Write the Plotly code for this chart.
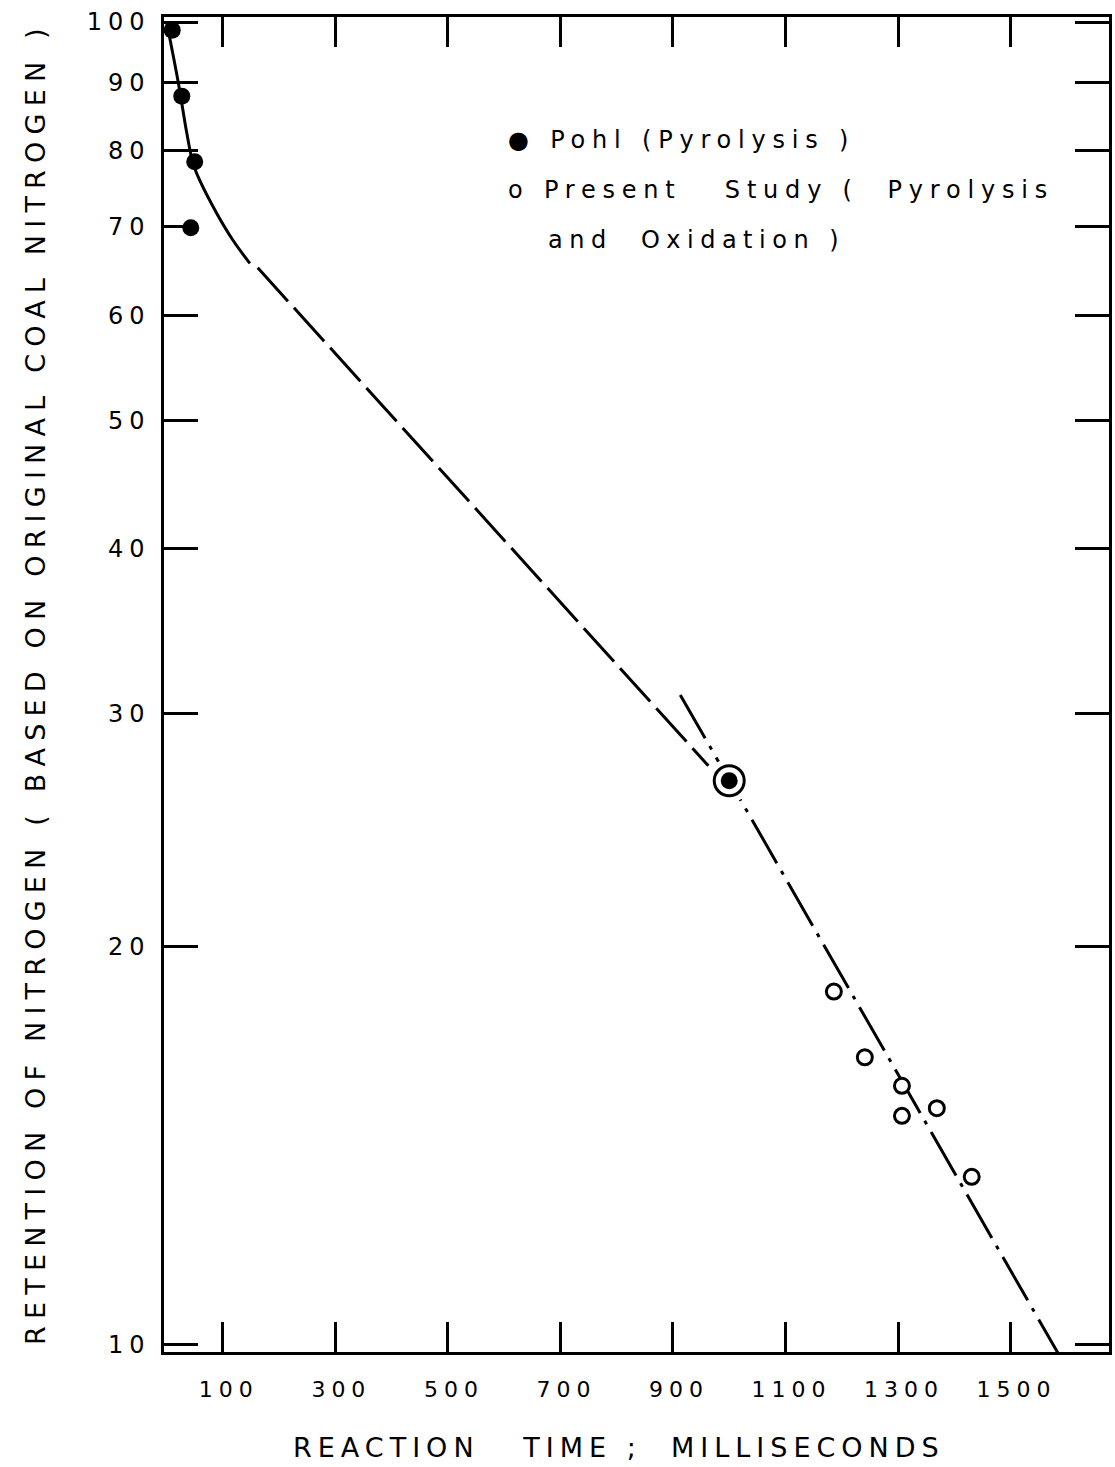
import plotly.graph_objects as go

# Pohl, pyrolysis (filled symbols)
pohl_time_ms = [10, 27, 50, 43, 1000]
pohl_retention = [98.6, 87.9, 78.4, 69.9, 26.7]

# Present study, pyrolysis and oxidation (open symbols)
study_time_ms = [1000, 1186, 1241, 1307, 1307, 1369, 1431]
study_retention = [26.7, 18.5, 16.5, 15.7, 14.9, 15.1, 13.4]

# Early-time solid curve
curve_time_ms = [0, 21, 36, 47, 59, 89, 118, 148]
curve_retention = [100, 89.9, 82.4, 78.2, 75.9, 71.7, 68.4, 65.7]

# Long-dash straight segment
dash_time_ms = [162, 963]
dash_retention = [65.2, 27.4]

# Dash-dot line through the later points
fit_time_ms = [913, 1600]
fit_retention = [31.0, 9.6]

x_tick_vals = [100, 300, 500, 700, 900, 1100, 1300, 1500]
x_tick_text = ["100", "300", "500", "700", "900", "1100", "1300", "1500"]
y_tick_vals = [10, 20, 30, 40, 50, 60, 70, 80, 90, 100]
y_tick_text = ["10", "20", "30", "40", "50", "60", "70", "80", "90", "100"]

FONT = "DejaVu Sans"
NB = "\u00a0"


def spaced(text, px):
    return f'<span style="letter-spacing:{px}px">{text}</span>'


fig = go.Figure()

fig.add_trace(go.Scatter(
    x=curve_time_ms, y=curve_retention, mode="lines",
    line=dict(color="black", width=3, shape="spline", smoothing=1.0),
    showlegend=False, hoverinfo="skip"))

fig.add_trace(go.Scatter(
    x=dash_time_ms, y=dash_retention, mode="lines",
    line=dict(color="black", width=3, dash="45px,9px"),
    showlegend=False, hoverinfo="skip"))

fig.add_trace(go.Scatter(
    x=fit_time_ms, y=fit_retention, mode="lines",
    line=dict(color="black", width=3, dash="50px,9px,4px,9px"),
    showlegend=False, hoverinfo="skip"))

# white halo that opens the lines around the shared point
fig.add_trace(go.Scatter(
    x=study_time_ms[:1], y=study_retention[:1], mode="markers",
    marker=dict(symbol="circle", size=44, color="white", line=dict(width=0)),
    showlegend=False, hoverinfo="skip"))

study_sizes = [30] + [15] * (len(study_time_ms) - 1)
fig.add_trace(go.Scatter(
    x=study_time_ms, y=study_retention, mode="markers",
    marker=dict(symbol="circle", size=study_sizes, color="white", opacity=1,
                line=dict(color="black", width=3)),
    name="Present Study", showlegend=False))

fig.add_trace(go.Scatter(
    x=pohl_time_ms, y=pohl_retention, mode="markers",
    marker=dict(symbol="circle", size=17, color="black", opacity=1,
                line=dict(width=0)),
    name="Pohl", showlegend=False))

fig.update_layout(
    width=1115, height=1467,
    margin=dict(l=164, r=3, t=17, b=115),
    paper_bgcolor="white", plot_bgcolor="white",
    font=dict(family=FONT, color="black"),
    showlegend=False,
)

fig.update_xaxes(
    range=[-4.6, 1675],
    tickvals=x_tick_vals, ticktext=[spaced(t, 6) for t in x_tick_text],
    ticks="inside", ticklen=30, tickwidth=2.5, tickcolor="black",
    showline=True, linewidth=2.5, linecolor="black", mirror="ticks",
    showgrid=False, zeroline=False,
    tickfont=dict(family=FONT, size=22, color="black"),
    ticklabelstandoff=16, ticklabelshift=6,
)

fig.update_yaxes(
    type="log", range=[0.9947, 2.0038],
    tickvals=y_tick_vals, ticktext=[spaced(t, 6) for t in y_tick_text],
    ticks="inside", ticklen=34, tickwidth=2.5, tickcolor="black",
    showline=True, linewidth=2.5, linecolor="black", mirror="ticks",
    showgrid=False, zeroline=False,
    tickfont=dict(family=FONT, size=24, color="black"),
    ticklabelstandoff=6,
)

x_title = f"REACTION{NB}{NB}{NB}TIME{NB};{NB}{NB}MILLISECONDS"
y_title = (f"RETENTION{NB}OF{NB}NITROGEN{NB}({NB}BASED{NB}ON{NB}"
           f"ORIGINAL{NB}COAL{NB}NITROGEN{NB})")

annotations = [
    dict(text=spaced(x_title, 6), x=0.482, y=-0.0714, xref="paper", yref="paper",
         xanchor="center", yanchor="middle", showarrow=False,
         font=dict(family=FONT, size=27, color="black")),
    dict(text=spaced(y_title, 7.2), x=-0.136, y=0.5015, xref="paper", yref="paper",
         xanchor="center", yanchor="middle", textangle=-90, showarrow=False,
         font=dict(family=FONT, size=27, color="black")),
    dict(text=spaced(f"\u25cf{NB}Pohl{NB}(Pyrolysis{NB})", 6.8),
         x=0.362, y=0.9079, xref="paper", yref="paper",
         xanchor="left", yanchor="middle", showarrow=False,
         font=dict(family=FONT, size=24, color="black")),
    dict(text=spaced(f"o{NB}Present{NB}{NB}{NB}Study{NB}({NB}{NB}Pyrolysis", 6.8),
         x=0.362, y=0.8704, xref="paper", yref="paper",
         xanchor="left", yanchor="middle", showarrow=False,
         font=dict(family=FONT, size=24, color="black")),
    dict(text=spaced(f"and{NB}{NB}Oxidation{NB})", 6.5),
         x=0.404, y=0.8330, xref="paper", yref="paper",
         xanchor="left", yanchor="middle", showarrow=False,
         font=dict(family=FONT, size=24, color="black")),
]
fig.update_layout(annotations=annotations)

fig.write_html("out.html")
